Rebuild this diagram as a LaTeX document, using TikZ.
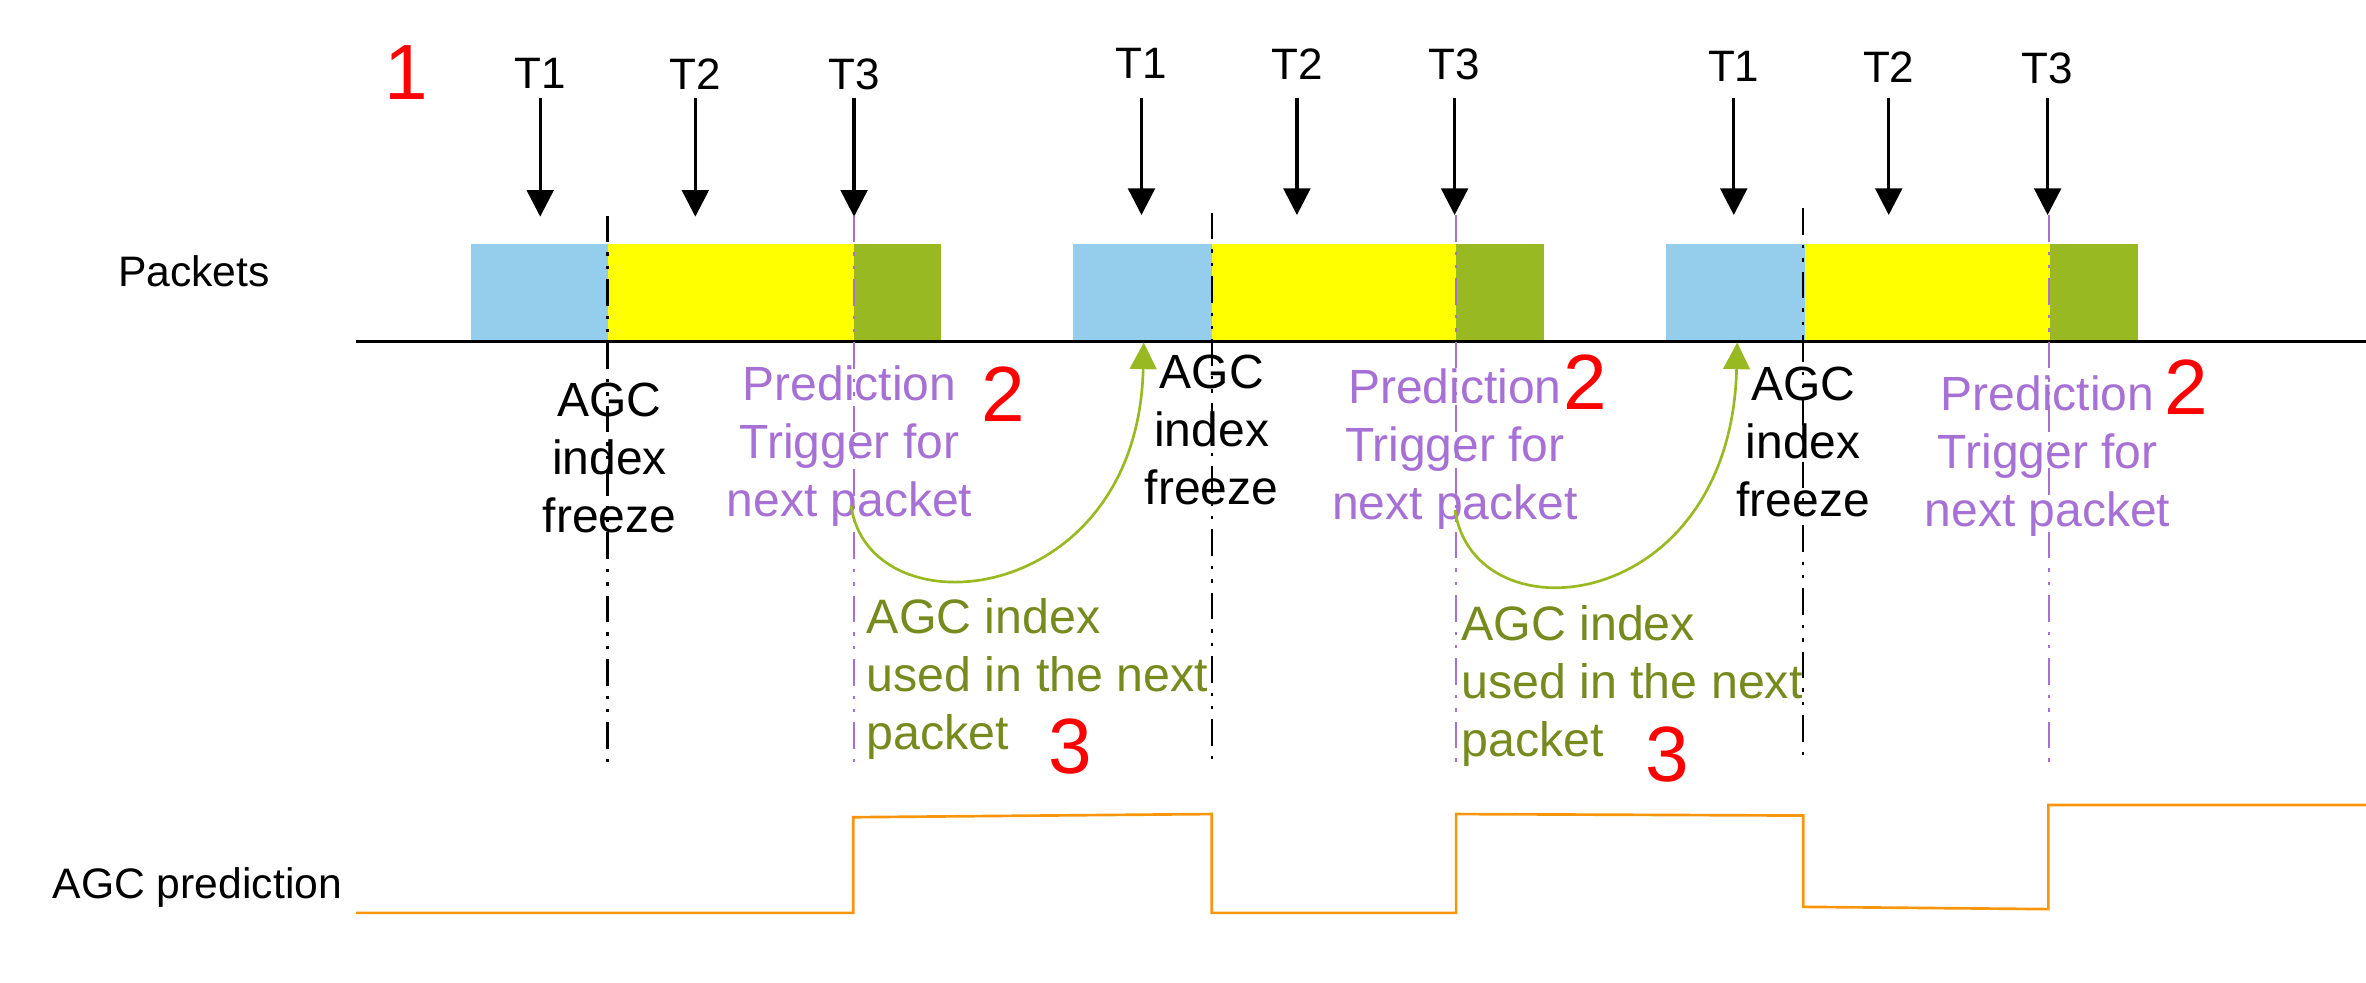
\documentclass[tikz,border=0pt]{standalone}
\usepackage{fontspec}
\setmainfont{Liberation Sans}
\usetikzlibrary{arrows.meta}
\definecolor{pblue}{RGB}{149,205,237}
\definecolor{pyellow}{RGB}{255,255,0}
\definecolor{pgreen}{RGB}{152,185,33}
\definecolor{tgreen}{RGB}{118,138,30}
\definecolor{tpurple}{RGB}{166,112,212}
\definecolor{agcorange}{RGB}{247,150,12}
\begin{document}
\begin{tikzpicture}[x=0.4527pt,y=-0.4527pt,
  tarrow/.style={-{Triangle[width=8pt,length=8pt]}, line width=1pt, black},
  garrow/.style={-{Triangle[width=8pt,length=8pt]}, line width=0.8pt, pgreen},
  tlabel/.style={font=\fontsize{13.2}{15}\selectfont, anchor=base, inner sep=0pt},
  rowlabel/.style={font=\fontsize{12.8}{15}\selectfont, anchor=base, inner sep=0pt},
  blk/.style={font=\fontsize{14.4}{17.4}\selectfont, anchor=base, inner sep=0pt, align=center},
  pred/.style={blk, text=tpurple},
  used/.style={font=\fontsize{14.5}{17.4}\selectfont, anchor=base west, inner sep=0pt, align=left, text=tgreen},
  rednum/.style={font=\fontsize{23.5}{26}\selectfont, anchor=base, inner sep=0pt, text=red},
  freezeline/.style={line width=0.7pt, black, dash pattern=on 8pt off 3pt on 1pt off 3pt on 1pt off 3pt},
  trigline/.style={line width=0.7pt, tpurple, dash pattern=on 8pt off 3pt on 1pt off 3pt on 1pt off 3pt},
  agcline/.style={line width=0.8pt, agcorange},
]
\useasboundingbox (0,0) rectangle (1568,651.46);

% row labels
\node[rowlabel] (lpackets) at (128.5,190) {Packets};
\node[rowlabel] (lagc) at (130.8,595.3) {AGC prediction};
\node[rednum] (n1) at (269,66) {1};

% packets bars
\fill[pblue] (312.1,161.7) rectangle (403,226.6);
\fill[pyellow] (403,161.7) rectangle (566,226.6);
\fill[pgreen] (566,161.7) rectangle (623.5,226.6);
\fill[pblue] (711.4,161.7) rectangle (803,226.6);
\fill[pyellow] (803,161.7) rectangle (965,226.6);
\fill[pgreen] (965,161.7) rectangle (1023,226.6);
\fill[pblue] (1104.3,161.7) rectangle (1196,226.6);
\fill[pyellow] (1196,161.7) rectangle (1358.5,226.6);
\fill[pgreen] (1358.5,161.7) rectangle (1417,226.6);

% axis
\coordinate (axL) at (236,226.6);
\coordinate (axR) at (1568,226.6);
\draw[line width=0.9pt] (axL) -- (axR);

% freeze and trigger lines
\coordinate (f1t) at (402.5,143); \coordinate (f1b) at (402.5,505);
\coordinate (f2t) at (803,141);   \coordinate (f2b) at (803,506);
\coordinate (f3t) at (1195,138);  \coordinate (f3b) at (1195,502);
\draw[freezeline] (f1t) -- (f1b);
\draw[freezeline] (f2t) -- (f2b);
\draw[freezeline] (f3t) -- (f3b);
\coordinate (p1t) at (566,143);    \coordinate (p1b) at (566,505);
\coordinate (p2t) at (965,142.5);  \coordinate (p2b) at (965,505);
\coordinate (p3t) at (1358,142.5); \coordinate (p3b) at (1358,505);
\draw[trigline] (p1t) -- (p1b);
\draw[trigline] (p2t) -- (p2b);
\draw[trigline] (p3t) -- (p3b);

% T arrows and labels
\foreach \nm/\x/\b/\tip/\lab in {a11/358/58.5/143.6/T1, a12/460.8/59.2/143.6/T2, a13/566/59.6/143.6/T3,
  a21/756.5/52/142.5/T1, a22/859.5/53/142.5/T2, a23/964/53/142.5/T3,
  a31/1149/54/142.5/T1, a32/1251.7/55/142.5/T2, a33/1357/55.5/142.5/T3}{
  \node[tlabel] (l\nm) at (\x,\b) {\lab};
  \coordinate (s\nm) at (\x,65);
  \coordinate (e\nm) at (\x,\tip);
  \draw[tarrow] (s\nm) -- (e\nm);
}

% AGC index freeze labels (anchor = baseline of last line)
\node[blk] (fz1) at (404,353.1) {AGC\\index\\freeze};
\node[blk] (fz2) at (803,334.5) {AGC\\index\\freeze};
\node[blk] (fz3) at (1195,342.5) {AGC\\index\\freeze};

% Prediction trigger labels
\node[pred] (pt1) at (563,342.2) {Prediction\\Trigger for\\next packet};
\node[pred] (pt2) at (964.2,344.6) {Prediction\\Trigger for\\next packet};
\node[pred] (pt3) at (1357,349) {Prediction\\Trigger for\\next packet};
\node[rednum] (n2a) at (665,279.5) {2};
\node[rednum] (n2b) at (1050.5,271.7) {2};
\node[rednum] (n2c) at (1449,275) {2};

% AGC index used labels
\node[used] (us1) at (574,496.6) {AGC index\\used in the next\\packet};
\node[used] (us2) at (968,501.4) {AGC index\\used in the next\\packet};
\node[rednum] (n3a) at (709.5,512.5) {3};
\node[rednum] (n3b) at (1104.7,518) {3};

% green curved arrows
\coordinate (g1s) at (564,335);  \coordinate (g1e) at (758,227);
\coordinate (g2s) at (964.2,338); \coordinate (g2e) at (1151.3,227);
\draw[garrow] (g1s) .. controls (576,420.5) and (754,403) .. (g1e);
\draw[garrow] (g2s) .. controls (977,425) and (1147,407) .. (g2e);

% AGC prediction waveform
\coordinate (o0) at (236,605);
\coordinate (o9) at (1568,533.5);
\draw[agcline] (o0) -- (565.5,605) -- (565.5,541.6) -- (803,539.5) -- (803,605)
  -- (965,605) -- (965,539.5) -- (1195,540.5) -- (1195,601) -- (1357.5,602.5)
  -- (1357.5,533.5) -- (o9);
\end{tikzpicture}
\end{document}
